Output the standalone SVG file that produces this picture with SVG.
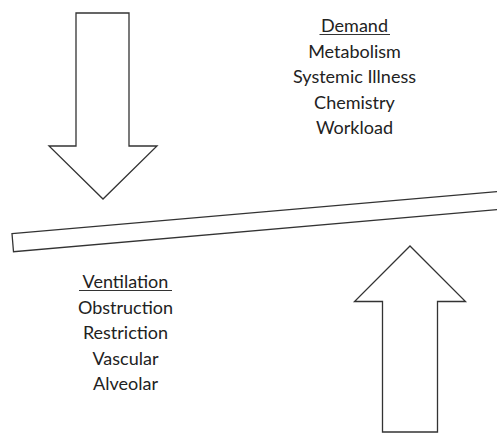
<svg xmlns="http://www.w3.org/2000/svg" width="497" height="433" viewBox="0 0 497 433">
<style>
.shape{fill:#fff;stroke:#333;stroke-width:1.3;stroke-linejoin:miter}
.t{font-family:Lato,"Liberation Sans",sans-serif;font-size:18px;fill:#222;text-anchor:middle}
.u{stroke:#333;stroke-width:1.2}
</style>
<rect width="497" height="433" fill="#fff"/>
<g id="arrow-down">
<polygon class="shape" points="76,13 129,13 129,146 157,146 103,199 49,146 76,146"/>
</g>
<g id="arrow-up">
<polygon class="shape" points="382.5,432 437.5,432 437.5,301.5 465.5,301.5 410,246 354.5,301.5 382.5,301.5"/>
</g>
<g id="plank">
<polygon class="shape" points="12,233.7 505,191 505,209 13.5,251.7"/>
</g>
<g id="demand">
<text class="t" x="354.5" y="32">Demand</text>
<line class="u" x1="319.5" y1="34.5" x2="390" y2="34.5"/>
<text class="t" x="354.5" y="57.5">Metabolism</text>
<text class="t" x="354.5" y="83">Systemic Illness</text>
<text class="t" x="354.5" y="108.5">Chemistry</text>
<text class="t" x="354.5" y="134">Workload</text>
</g>
<g id="ventilation">
<text class="t" x="125.5" y="288">Ventilation</text>
<line class="u" x1="79" y1="290.5" x2="172" y2="290.5"/>
<text class="t" x="125.5" y="313.5">Obstruction</text>
<text class="t" x="125.5" y="339">Restriction</text>
<text class="t" x="125.5" y="364.5">Vascular</text>
<text class="t" x="125.5" y="389.5">Alveolar</text>
</g>
</svg>
